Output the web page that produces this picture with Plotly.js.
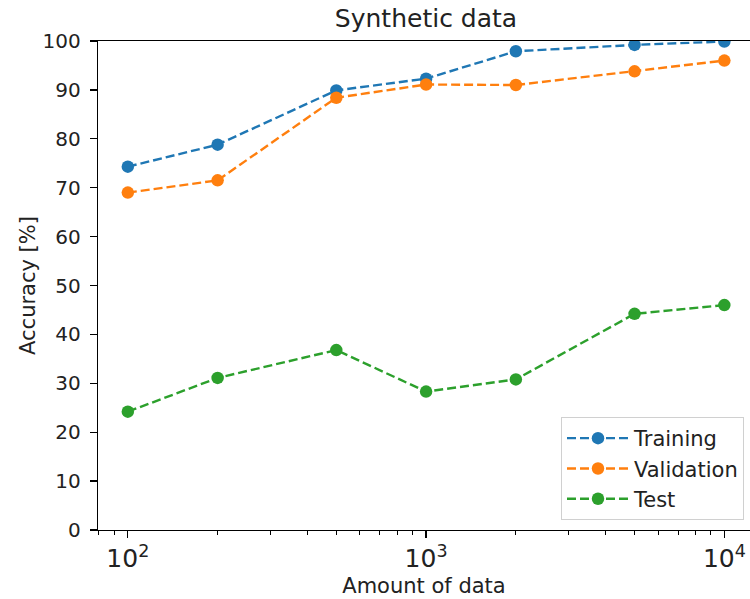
<!DOCTYPE html>
<html>
<head>
<meta charset="utf-8">
<script src="https://cdn.plot.ly/plotly-3.0.1.min.js"></script>
<style>html,body{margin:0;padding:0;background:#fff;}#chart{width:750px;height:599px;}</style>
</head>
<body>
<div id="chart"></div>
<script>
const amounts = [100, 200, 500, 1000, 2000, 5000, 10000];
const training = [74.3, 78.8, 89.9, 92.3, 97.9, 99.2, 99.9];
const validation = [69.0, 71.5, 88.4, 91.1, 91.0, 93.8, 96.0];
const test = [24.2, 31.1, 36.8, 28.3, 30.8, 44.2, 46.0];
const seriesNames = ['Training', 'Validation', 'Test'];
const colors = ['#1f77b4', '#ff7f0e', '#2ca02c'];
const seriesData = [training, validation, test];

const traces = seriesData.map((ys, i) => ({
  x: amounts, y: ys, name: seriesNames[i], type: 'scatter', mode: 'lines+markers',
  line: {color: colors[i], width: 2.4, dash: '9px,4px'},
  marker: {color: colors[i], size: 12.5}
}));

const tickFont = {family: 'DejaVu Sans', size: 20, color: '#222'};
const labelFont = {family: 'DejaVu Sans', size: 21, color: '#222'};
const layout = {
  width: 750, height: 599,
  margin: {l: 98, r: 0, t: 41, b: 69},
  paper_bgcolor: '#fff', plot_bgcolor: '#fff',
  font: tickFont,
  showlegend: true,
  title: {text: 'Synthetic data', font: {family: 'DejaVu Sans', size: 25, color: '#222'}, xref: 'container', x: 0.568, xanchor: 'center', yref: 'container', y: 0.97, yanchor: 'middle'},
  xaxis: {
    type: 'log', range: [1.9, 4.086], dtick: 1, exponentformat: 'power', showexponent: 'all',
    showgrid: false, zeroline: false, showline: true, linecolor: '#000', linewidth: 1.3, mirror: true,
    ticks: 'outside', ticklen: 7, tickwidth: 1.3, tickcolor: '#000',
    minor: {ticks: 'outside', ticklen: 4, tickwidth: 1, tickcolor: '#000', dtick: 'D1', showgrid: false},
    tickfont: tickFont,
    title: {text: 'Amount of data', font: labelFont, standoff: 6}
  },
  yaxis: {
    range: [0, 100], dtick: 10, showgrid: false, zeroline: false, showline: true, linecolor: '#000', linewidth: 1.3,
    ticks: 'outside', ticklen: 7, tickwidth: 1.3, tickcolor: '#000', tickfont: tickFont, ticklabelstandoff: 5,
    title: {text: 'Accuracy [%]', font: labelFont, standoff: 1}
  },
  legend: {
    x: 0.9908, y: 0.0204, xanchor: 'right', yanchor: 'bottom',
    bgcolor: 'rgba(255,255,255,0.8)', bordercolor: '#d0d0d0', borderwidth: 1,
    font: {family: 'DejaVu Sans', size: 21, color: '#222'}, itemwidth: 62
  }
};
Plotly.newPlot('chart', traces, layout, {displayModeBar: false, staticPlot: true});
</script>
</body>
</html>
